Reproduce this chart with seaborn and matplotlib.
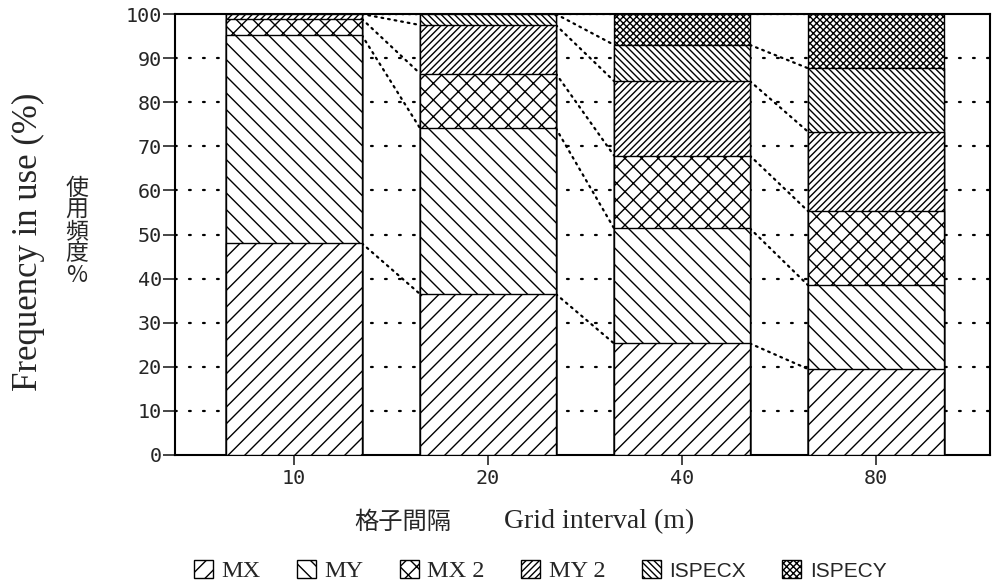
import matplotlib
matplotlib.use("Agg")
import matplotlib.pyplot as plt
import matplotlib.patches as mpatches
import seaborn as sns
import numpy as np
import pandas as pd

# ---- data ----
categories = ["10", "20", "40", "80"]
series_names = ["MX", "MY", "MX2", "MY2", "ISPECX", "ISPECY"]
legend_labels = ["MX", "MY", "MX 2", "MY 2", "ISPECX", "ISPECY"]
mx = [48.0, 36.5, 25.3, 19.5]
my = [47.2, 37.6, 26.1, 19.0]
mx2 = [3.7, 12.4, 16.5, 16.8]
my2 = [1.1, 11.0, 16.9, 18.0]
ispecx = [0.0, 2.5, 8.2, 14.4]
ispecy = [0.0, 0.0, 7.0, 12.3]
y_ticks = [0, 10, 20, 30, 40, 50, 60, 70, 80, 90, 100]

hatches = ["//", "\\\\", "xx", "/////", "\\\\\\\\\\", "xxxxx"]

sns.set_style("ticks")
plt.rcParams["hatch.linewidth"] = 1.0
plt.rcParams["font.family"] = ["Liberation Serif", "DejaVu Sans"]

values = np.array([mx, my, mx2, my2, ispecx, ispecy])
cum = np.cumsum(values, axis=0)

fig = plt.figure(figsize=(9.95, 5.88), dpi=100)
ax = fig.add_axes([175 / 995, 1 - 455 / 588, (990 - 175) / 995, (455 - 14) / 588])

bar_w = 0.7
# draw from the top layer down so lower layers overlay
for k in range(len(series_names) - 1, -1, -1):
    df = pd.DataFrame({"grid": categories, "cum": cum[k]})
    sns.barplot(data=df, x="grid", y="cum", order=categories, ax=ax,
                color="white", edgecolor="black", linewidth=1.0,
                hatch=hatches[k], width=bar_w, errorbar=None, saturation=1,
                zorder=3)

# dotted connectors between corresponding layer tops of adjacent bars
for k in range(len(series_names)):
    for i in range(len(categories) - 1):
        ax.plot([i + bar_w / 2, i + 1 - bar_w / 2], [cum[k][i], cum[k][i + 1]],
                color="black", linewidth=1.6, linestyle=(0, (0.8, 2.2)),
                dash_capstyle="round", zorder=2)

ax.set_xlim(-0.613, 3.588)
ax.set_ylim(0, 100)
ax.set_yticks(y_ticks)
ax.set_yticklabels([str(t) for t in y_ticks], fontfamily="DejaVu Sans Mono", fontsize=14.5)
ax.set_xticks(range(len(categories)))
ax.set_xticklabels(categories, fontfamily="DejaVu Sans Mono", fontsize=14.5)
ax.tick_params(axis="y", direction="out", length=9, width=1.2, pad=0.5)
ax.tick_params(axis="x", direction="out", length=7, width=1.2, pad=3)
ax.set_xlabel("")
ax.set_ylabel("")

ax.grid(False)
for y in y_ticks[1:-1]:
    ax.axhline(y, color="black", linewidth=1.6, linestyle=(0, (0.8, 5.5)),
               dash_capstyle="round", zorder=1)

for s in ax.spines.values():
    s.set_visible(True)
    s.set_linewidth(1.5)
    s.set_color("black")

# axis titles
fig.text(28 / 995, 1 - 242 / 588, "Frequency in use (%)", rotation=90,
         ha="center", va="center", fontsize=25, fontfamily="Liberation Serif")
fig.text(77 / 995, 1 - 232 / 588, "\n".join("使用頻度%"), ha="center", va="center",
         fontsize=16.5, linespacing=0.92,
         fontfamily=["Noto Sans CJK JP", "DejaVu Sans"])
fig.text(403 / 995, 1 - 522 / 588, "格子間隔", ha="center", va="center",
         fontsize=17.5, fontfamily=["Noto Sans CJK JP", "DejaVu Sans"])
fig.text(599 / 995, 1 - 522 / 588, "Grid interval (m)", ha="center", va="center",
         fontsize=20, fontfamily="Liberation Serif")

# legend
handles = [mpatches.Patch(facecolor="white", edgecolor="black", hatch=h, linewidth=1.0)
           for h in hatches]
leg = fig.legend(handles, legend_labels, loc="center", ncol=6,
                 bbox_to_anchor=(540 / 995, 1 - 571 / 588), frameon=False,
                 fontsize=17.5, handlelength=0.78, handleheight=0.78,
                 handletextpad=0.35, columnspacing=1.5, borderaxespad=0)
for t in leg.get_texts()[4:]:
    t.set_fontfamily("Liberation Sans")
    t.set_fontsize(15)

fig.savefig("out.png", dpi=100)
